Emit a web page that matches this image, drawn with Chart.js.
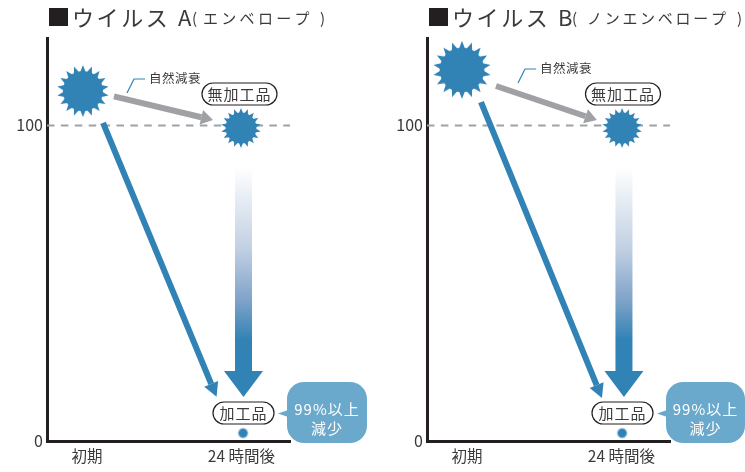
<!DOCTYPE html>
<html lang="ja">
<head>
<meta charset="utf-8">
<title>ウイルス A / B</title>
<script src="https://cdn.jsdelivr.net/npm/chart.js@4/dist/chart.umd.min.js"></script>
<style>
  html, body { margin: 0; padding: 0; background: #fff; overflow: hidden; }
  canvas { position: absolute; top: 0; }
  #panelA { left: 0; }
  #panelB { left: 380px; }
</style>
</head>
<body>
<canvas id="panelA" width="372" height="472"></canvas>
<canvas id="panelB" width="365" height="472"></canvas>
<script>
// values (x: 0 = 初期, 1 = 24 時間後 / y: 100 = 無加工品 at 24h)
const categories = ['初期', '24 時間後'];
const xTicks = [0, 0.99];
const yTicks = [0, 100];
const refLine = [100, 100];

const startA = [-0.026, 110.9];
const untreatedA = [0.987, 99.2];
const treatedA = [1, 2.5];
const decayA = [[0.173, 109.2], [0.733, 102.6]];
const dropA = [[0.103, 100.8], [0.796, 18.1]];
const reductionA = [[1.003, 86.8], [1.003, 22.2]];

const startB = [-0.032, 117.6];
const untreatedB = [0.994, 99.2];
const treatedB = [0.994, 2.5];
const decayB = [[0.186, 112.5], [0.76, 102.9]];
const dropB = [[0.09, 107.4], [0.831, 17.7]];
const reductionB = [[1.006, 86.8], [1.006, 22.2]];

const BLUE = '#3182b5';
const GREY = '#a0a1a4';
const INK = '#231f20';
const TEXT = '#3a3a3a';
const FONT = '"Noto Sans CJK JP", "Noto Sans", sans-serif';
const X_MIN = -0.256, X_MAX = 1.301;
const Y_MAX = 127.7;

function burst(radius, spikes) {
    const size = Math.ceil(radius * 2) + 2;
    const c = document.createElement('canvas');
    c.width = c.height = size;
    const g = c.getContext('2d');
    g.fillStyle = BLUE;
    g.beginPath();
    for (let i = 0; i < spikes * 2; i++) {
        const r = i % 2 ? radius * 0.7 : radius;
        const a = Math.PI * i / spikes - Math.PI / 2;
        g.lineTo(size / 2 + r * Math.cos(a), size / 2 + r * Math.sin(a));
    }
    g.closePath();
    g.fill();
    // round the notches a little
    g.beginPath();
    g.arc(size / 2, size / 2, radius * 0.77, 0, Math.PI * 2);
    g.fill();
    return c;
}

function toXY(list) {
    return list.map(p => ({ x: p[0], y: p[1] }));
}

function pill(ctx, text, cx, cy, w, h) {
    ctx.beginPath();
    ctx.roundRect(cx - w / 2, cy - h / 2, w, h, h / 2);
    ctx.fillStyle = '#fff';
    ctx.fill();
    ctx.strokeStyle = INK;
    ctx.lineWidth = 1.2;
    ctx.stroke();
    ctx.fillStyle = TEXT;
    ctx.font = '15px ' + FONT;
    ctx.letterSpacing = '1px';
    ctx.textAlign = 'center';
    ctx.textBaseline = 'middle';
    ctx.fillText(text, cx, cy + 0.5);
}

// arrow heads go on after the shafts have been drawn by the line datasets
const arrowHeads = {
    id: 'arrowHeads',
    afterDatasetsDraw(chart) {
        const ctx = chart.ctx;
        chart.data.datasets.forEach((ds, i) => {
            if (!ds.head) return;
            const pts = chart.getDatasetMeta(i).data;
            const a = pts[0], b = pts[pts.length - 1];
            const ang = Math.atan2(b.y - a.y, b.x - a.x);
            ctx.save();
            ctx.translate(b.x, b.y);
            ctx.rotate(ang);
            ctx.fillStyle = ds.head.color;
            ctx.beginPath();
            ctx.moveTo(ds.head.len, 0);
            ctx.lineTo(0, ds.head.wid / 2);
            ctx.lineTo(0, -ds.head.wid / 2);
            ctx.closePath();
            ctx.fill();
            ctx.restore();
        });
    }
};

const notes = {
    id: 'notes',
    afterDraw(chart, args, o) {
        const ctx = chart.ctx;
        ctx.save();

        // title
        ctx.textBaseline = 'alphabetic';
        ctx.textAlign = 'left';
        ctx.fillStyle = INK;
        ctx.fillRect(49, 8, 19, 18);
        ctx.fillStyle = TEXT;
        ctx.font = '22px ' + FONT;
        ctx.letterSpacing = '2.6px';
        ctx.fillText(o.title, 72, 26);
        ctx.font = '15px ' + FONT;
        ctx.letterSpacing = '0px';
        ctx.fillText('(', 192, 24);
        ctx.fillText(')', o.closeX, 24);
        ctx.letterSpacing = o.subSpacing;
        ctx.fillText(o.sub, o.subX, 24);

        // 自然減衰 with its leader
        ctx.strokeStyle = BLUE;
        ctx.lineWidth = 1.2;
        ctx.beginPath();
        ctx.moveTo(o.note[0] - 22, o.note[1] + 15);
        ctx.lineTo(o.note[0] - 15, o.note[1] + 1);
        ctx.lineTo(o.note[0] - 4, o.note[1] + 1);
        ctx.stroke();
        ctx.fillStyle = TEXT;
        ctx.font = '12.5px ' + FONT;
        ctx.letterSpacing = '0.5px';
        ctx.textBaseline = 'middle';
        ctx.fillText('自然減衰', o.note[0], o.note[1]);

        pill(ctx, '無加工品', o.pillTop, 94, 75, 22);
        pill(ctx, '加工品', o.pillBottom, 413, 61, 22);

        // callout
        const bx = o.bubbleX;
        ctx.fillStyle = '#6aa9cc';
        ctx.beginPath();
        ctx.moveTo(bx - 9, 413.5);
        ctx.lineTo(bx + 4, 409);
        ctx.lineTo(bx + 4, 418);
        ctx.closePath();
        ctx.fill();
        ctx.beginPath();
        ctx.roundRect(bx, 382, o.bubbleW, 61, 17);
        ctx.fill();
        ctx.fillStyle = '#fff';
        ctx.font = '15px ' + FONT;
        ctx.letterSpacing = '1px';
        ctx.textAlign = 'center';
        ctx.fillText('99%以上', bx + o.bubbleW / 2, 409);
        ctx.fillText('減少', bx + o.bubbleW / 2, 428);
        ctx.restore();
    }
};

function panel(id, d, opts) {
    const canvas = document.getElementById(id);
    new Chart(canvas, {
        type: 'line',
        data: {
            datasets: [
                {
                    data: [{ x: d.start[0], y: d.start[1] }, { x: d.untreated[0], y: d.untreated[1] }, { x: d.treated[0], y: d.treated[1] }],
                    showLine: false,
                    pointStyle: [burst(d.startR, 18), burst(20, 18), burst(5.5, 14)],
                    pointRadius: 20
                },
                {
                    data: toXY(d.decay), borderColor: GREY, borderWidth: 6, pointRadius: 0,
                    head: { color: GREY, len: 12, wid: 15 }
                },
                {
                    data: toXY(d.drop), borderColor: BLUE, borderWidth: 6, pointRadius: 0,
                    head: { color: BLUE, len: 14, wid: 15 }
                },
                {
                    data: toXY(d.reduction), borderWidth: 17, pointRadius: 0,
                    borderColor(c) {
                        const chart = c.chart;
                        if (!chart.chartArea) return BLUE;
                        const y = chart.scales.y;
                        const y0 = y.getPixelForValue(d.reduction[0][1]), y1 = y.getPixelForValue(32);
                        if (!Number.isFinite(y0) || !Number.isFinite(y1)) return BLUE;
                        const g = chart.ctx.createLinearGradient(0, y0, 0, y1);
                        g.addColorStop(0, '#ffffff');
                        g.addColorStop(0.48, '#c0cfe2');
                        g.addColorStop(0.77, '#7fa3c8');
                        g.addColorStop(1, BLUE);
                        return g;
                    },
                    head: { color: BLUE, len: 26, wid: 39 }
                },
                {
                    data: [{ x: X_MIN, y: refLine[0] }, { x: X_MAX, y: refLine[1] }],
                    borderColor: GREY, borderWidth: 2, borderDash: [7.5, 6.4], pointRadius: 0
                }
            ]
        },
        options: {
            responsive: false,
            animation: false,
            clip: false,
            layout: { padding: { top: 38, right: canvas.width - 290 } },
            plugins: { legend: { display: false }, tooltip: { enabled: false }, notes: opts },
            scales: {
                x: {
                    type: 'linear', min: X_MIN, max: X_MAX,
                    grid: { display: false, drawTicks: false },
                    border: { color: INK, width: 3 },
                    afterBuildTicks(s) { s.ticks = xTicks.map(v => ({ value: v })); },
                    afterFit(s) { s.height = 31; },
                    ticks: {
                        autoSkip: false, maxRotation: 0, padding: 6, color: TEXT,
                        font: { size: 15.5, family: FONT },
                        callback: (v, i) => categories[i]
                    }
                },
                y: {
                    min: 0, max: Y_MAX,
                    grid: { display: false, drawTicks: false },
                    border: { color: INK, width: 3 },
                    afterBuildTicks(s) { s.ticks = yTicks.map(v => ({ value: v })); },
                    afterFit(s) { s.width = 47; },
                    ticks: { padding: 4, color: TEXT, font: { size: 16, family: FONT } }
                }
            }
        },
        plugins: [arrowHeads, notes]
    });
}

panel('panelA',
    { start: startA, startR: 26, untreated: untreatedA, treated: treatedA, decay: decayA, drop: dropA, reduction: reductionA },
    { title: 'ウイルス A', sub: 'エンベロープ', subX: 203, closeX: 320, subSpacing: '3.3px', note: [149, 78], pillTop: 239.5, pillBottom: 243.5, bubbleX: 287, bubbleW: 80 });
panel('panelB',
    { start: startB, startR: 29, untreated: untreatedB, treated: treatedB, decay: decayB, drop: dropB, reduction: reductionB },
    { title: 'ウイルス B', sub: 'ノンエンベロープ', subX: 207, closeX: 357, subSpacing: '2.7px', note: [160, 68], pillTop: 243, pillBottom: 242.5, bubbleX: 286, bubbleW: 79 });
</script>
</body>
</html>
